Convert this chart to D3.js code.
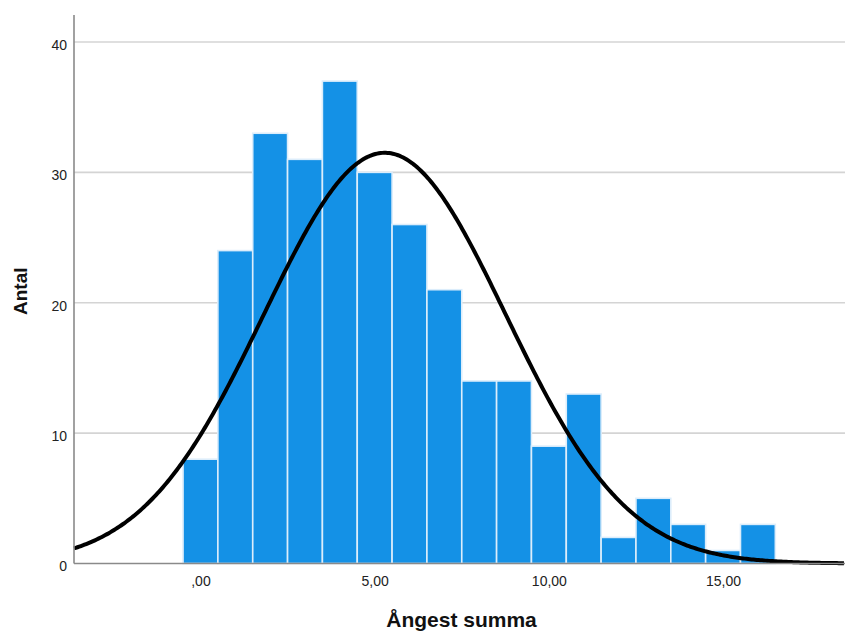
<!DOCTYPE html>
<html>
<head>
<meta charset="utf-8">
<script src="https://cdn.jsdelivr.net/npm/d3@7"></script>
<style>
  html, body { margin: 0; padding: 0; background: #fff; }
  svg { display: block; }
</style>
</head>
<body>
<svg id="chart" width="845" height="631"></svg>
<script>
// ---- data ----
const binCenters = [0, 1, 2, 3, 4, 5, 6, 7, 8, 9, 10, 11, 12, 13, 14, 15, 16];
const counts     = [8, 24, 33, 31, 37, 30, 26, 21, 14, 14, 9, 13, 2, 5, 3, 1, 3];
const binWidth = 1;
const xTicks = [0, 5, 10, 15];
const xTickLabels = [",00", "5,00", "10,00", "15,00"];
const yTicks = [0, 10, 20, 30, 40];
const normalMean = 5.29;
const normalSD = 3.47;
const totalN = 274;
const xTitle = "Ångest summa";
const yTitle = "Antal";

// ---- layout ----
const svg = d3.select("#chart");
const pL = 74, pR = 845, pT = 15, pB = 563.5;

const x = d3.scaleLinear().domain([-3.63, 18.5]).range([pL, pR]);
const y = d3.scaleLinear().domain([0, 42.07]).range([pB, pT]);

// gridlines
svg.append("g")
  .selectAll("line")
  .data(yTicks.filter(d => d > 0))
  .join("line")
  .attr("x1", pL).attr("x2", pR)
  .attr("y1", d => y(d)).attr("y2", d => y(d))
  .attr("stroke", "#d4d4d4")
  .attr("stroke-width", 1.6);

// bars
svg.append("g")
  .selectAll("rect")
  .data(binCenters.map((c, i) => ({c, v: counts[i]})))
  .join("rect")
  .attr("x", d => x(d.c - binWidth / 2))
  .attr("width", d => x(d.c + binWidth / 2) - x(d.c - binWidth / 2))
  .attr("y", d => y(d.v))
  .attr("height", d => y(0) - y(d.v))
  .attr("fill", "#1491e6")
  .attr("stroke", "#dcedfb")
  .attr("stroke-width", 1.6);

// normal curve
const xs = d3.range(x.domain()[0], x.domain()[1] + 0.001, 0.05);
const dens = v => totalN * binWidth / (normalSD * Math.sqrt(2 * Math.PI)) *
  Math.exp(-0.5 * Math.pow((v - normalMean) / normalSD, 2));
svg.append("path")
  .datum(xs)
  .attr("d", d3.line().x(d => x(d)).y(d => y(dens(d))))
  .attr("fill", "none")
  .attr("stroke", "#000")
  .attr("stroke-width", 4);

// axes lines
svg.append("line")
  .attr("x1", pL).attr("x2", pL)
  .attr("y1", pT).attr("y2", pB)
  .attr("stroke", "#8a8a8a").attr("stroke-width", 1.6);
svg.append("line")
  .attr("x1", pL).attr("x2", pR)
  .attr("y1", pB).attr("y2", pB)
  .attr("stroke", "#8a8a8a").attr("stroke-width", 1.6);

// y tick labels
const yAxis = d3.axisLeft(y).tickValues(yTicks).tickSize(0).tickPadding(7);
const gy = svg.append("g").attr("transform", `translate(${pL},0)`).call(yAxis);
gy.select(".domain").remove();
gy.selectAll("text")
  .attr("y", 3)
  .attr("font-family", "Liberation Sans, Arial, sans-serif")
  .attr("font-size", 14)
  .attr("fill", "#222");

// x tick labels
const xAxis = d3.axisBottom(x).tickValues(xTicks)
  .tickFormat((d, i) => xTickLabels[i]).tickSize(0).tickPadding(12.5);
const gx = svg.append("g").attr("transform", `translate(0,${pB})`).call(xAxis);
gx.select(".domain").remove();
gx.selectAll("text")
  .attr("font-family", "Liberation Sans, Arial, sans-serif")
  .attr("font-size", 14)
  .attr("fill", "#222");

// titles
svg.append("text")
  .attr("x", (pL + pR) / 2 + 2)
  .attr("y", 626.5)
  .attr("text-anchor", "middle")
  .attr("font-family", "Liberation Sans, Arial, sans-serif")
  .attr("font-weight", "bold")
  .attr("font-size", 21)
  .attr("fill", "#111")
  .text(xTitle);

svg.append("text")
  .attr("transform", `translate(27,${(pT + pB) / 2 + 2}) rotate(-90)`)
  .attr("text-anchor", "middle")
  .attr("font-family", "Liberation Sans, Arial, sans-serif")
  .attr("font-weight", "bold")
  .attr("font-size", 19)
  .attr("fill", "#111")
  .text(yTitle);
</script>
</body>
</html>
